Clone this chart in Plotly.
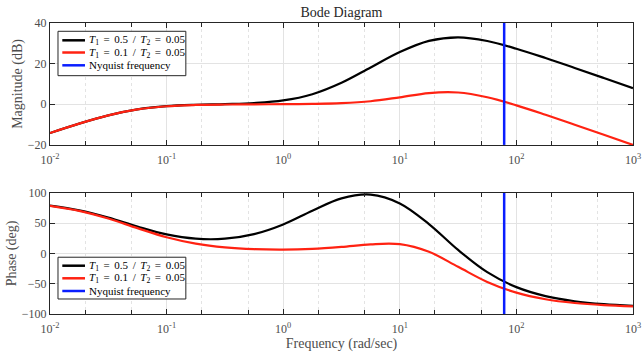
import plotly.graph_objects as go
from plotly.subplots import make_subplots

# Frequencies (rad/sec), read on a log grid
freq = [0.01, 0.01778, 0.03162, 0.05623, 0.1, 0.1778, 0.3162, 0.5623, 1.0, 1.778,
        3.162, 5.623, 10.0, 17.78, 31.62, 56.23, 100.0, 177.8, 316.2, 562.3, 1000.0]

mag_a = [-14.15, -9.50, -5.44, -2.52, -0.95, -0.26, 0.10, 0.62, 1.90, 4.97,
         10.60, 18.13, 25.72, 31.22, 32.97, 31.16, 27.36, 22.77, 17.89, 12.93, 7.96]
mag_b = [-14.15, -9.50, -5.44, -2.53, -0.97, -0.33, -0.10, -0.02, 0.05, 0.18,
         0.55, 1.51, 3.44, 5.54, 5.79, 3.44, -0.52, -5.17, -10.07, -15.03, -20.0]
ph_a = [79.19, 71.31, 59.26, 44.41, 31.48, 24.44, 24.43, 31.99, 47.99, 70.66,
        91.10, 97.27, 82.73, 48.61, 5.80, -30.92, -55.61, -70.42, -78.95, -83.77, -86.49]
ph_b = [78.73, 70.49, 57.80, 41.83, 26.90, 16.32, 10.07, 7.01, 6.27, 7.54,
        10.82, 15.11, 15.35, 2.73, -22.06, -47.0, -64.73, -75.58, -81.85, -85.41, -87.41]

nyquist = 78.54
S = " \u2006"  # slightly wider spacing, like the math typesetting
names = [f"<i>T</i><sub>1</sub>{S}={S}0.5{S}/{S}<i>T</i><sub>2</sub>{S}={S}0.05",
         f"<i>T</i><sub>1</sub>{S}={S}0.1{S}/{S}<i>T</i><sub>2</sub>{S}={S}0.05",
         "Nyquist frequency"]
colors = ["#000000", "#ff2212", "#0a1eff"]

mag_range = [-20, 40]
ph_range = [-100, 100]
mag_ticks = [-20, 0, 20, 40]
ph_ticks = [-100, -50, 0, 50, 100]
x_tickvals = [0.01, 0.1, 1, 10, 100, 1000]
x_ticktext = ["10<sup>-2</sup>", "10<sup>-1</sup>", "10<sup>0</sup>",
              "10<sup>1</sup>", "10<sup>2</sup>", "10<sup>3</sup>"]

FONT = "Liberation Serif, DejaVu Serif, Times New Roman, serif"
GRAY = "#4d4d4d"
DARK = "#262626"

fig = make_subplots(rows=2, cols=1, vertical_spacing=0.165)

for row, (ya, yb, yr) in enumerate([(mag_a, mag_b, mag_range),
                                    (ph_a, ph_b, ph_range)], start=1):
    fig.add_trace(go.Scatter(x=freq, y=ya, mode="lines", name=names[0], showlegend=False,
                             line=dict(color=colors[0], width=2.2, shape="spline")), row=row, col=1)
    fig.add_trace(go.Scatter(x=freq, y=yb, mode="lines", name=names[1], showlegend=False,
                             line=dict(color=colors[1], width=2.2, shape="spline")), row=row, col=1)
    fig.add_trace(go.Scatter(x=[nyquist, nyquist], y=yr, mode="lines", name=names[2],
                             showlegend=False,
                             line=dict(color=colors[2], width=2.5)), row=row, col=1)

axis_common = dict(showline=True, linecolor=DARK, linewidth=1, mirror="allticks",
                   ticks="inside", ticklen=5, tickcolor=DARK, automargin=False,
                   showgrid=True, gridcolor="#e3e3e3", gridwidth=1,
                   tickfont=dict(family=FONT, size=12, color=GRAY), zeroline=False)

for r in (1, 2):
    fig.update_xaxes(type="log", range=[-2, 3], tickvals=x_tickvals, ticktext=x_ticktext,
                     ticklabelstandoff=4,
                     minor=dict(ticks="inside", ticklen=4, tickcolor=DARK,
                                showgrid=True, gridcolor="#e3e3e3", griddash="dot"),
                     row=r, col=1, **axis_common)

fig.update_yaxes(range=mag_range, tickvals=mag_ticks, row=1, col=1, **axis_common,
                 title=dict(text="Magnitude (dB)", font=dict(family=FONT, size=14, color=GRAY),
                            standoff=1))
fig.update_yaxes(range=ph_range, tickvals=ph_ticks, row=2, col=1, **axis_common,
                 title=dict(text="Phase (deg)", font=dict(family=FONT, size=14, color=GRAY),
                            standoff=1))
fig.update_xaxes(title=dict(text="Frequency (rad/sec)", font=dict(family=FONT, size=14, color=GRAY),
                            standoff=1), row=2, col=1)

# Manual compact legends (one per panel), in panel-domain coordinates
shapes = []
annotations = []
for xs, ys in (("x", "y"), ("x2", "y2")):
    if ys == "y":
        box = (0.932, 0.568)
        rows_y = [0.858, 0.758, 0.653]
    else:
        box = (0.469, 0.124)
        rows_y = [0.399, 0.295, 0.190]
    shapes.append(dict(type="rect", xref=f"{xs} domain", yref=f"{ys} domain",
                       x0=0.0137, x1=0.233, y0=box[1], y1=box[0],
                       fillcolor="white", line=dict(color=DARK, width=1), layer="above"))
    for name, col, yy in zip(names, colors, rows_y):
        shapes.append(dict(type="line", xref=f"{xs} domain", yref=f"{ys} domain",
                           x0=0.0211, x1=0.0600, y0=yy, y1=yy,
                           line=dict(color=col, width=2.5), layer="above"))
        annotations.append(dict(text=name, xref=f"{xs} domain", yref=f"{ys} domain",
                                x=0.0629, y=yy, xanchor="left", yanchor="middle",
                                showarrow=False,
                                font=dict(family=FONT, size=11, color="#000000")))

fig.update_layout(
    template="plotly_white",
    width=643, height=353,
    margin=dict(l=50, r=10, t=23, b=39, autoexpand=False),
    paper_bgcolor="white", plot_bgcolor="white",
    title=dict(text="Bode Diagram", x=0.531, xanchor="center", y=0.965, yanchor="middle",
               font=dict(family=FONT, size=14, color=DARK)),
    showlegend=False,
    shapes=shapes,
    annotations=annotations,
)
fig.update_layout(yaxis=dict(domain=[0.581, 1.0]), yaxis2=dict(domain=[0.0, 0.416]))

fig.write_html("out.html")
